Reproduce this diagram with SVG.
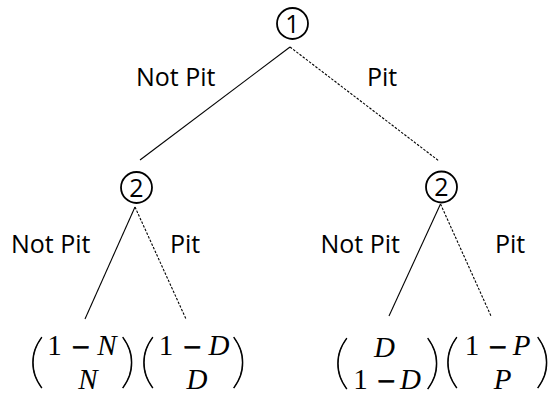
<svg xmlns="http://www.w3.org/2000/svg" width="553" height="396" viewBox="0 0 553 396">
<style>
.node circle{fill:none;stroke:#000;stroke-width:1.8}
.num{font-family:"Open Sans","Noto Sans",sans-serif;font-size:25px;text-anchor:middle;fill:#000}
.lbl{font-family:"Open Sans","Noto Sans",sans-serif;font-size:25px;fill:#000}
.solid{stroke:#000;stroke-width:1.1;fill:none}
.dash{stroke:#000;stroke-width:1.1;fill:none;stroke-dasharray:2.5 1.5}
.m{font-family:"Liberation Serif",serif;font-size:29px;fill:#000;text-anchor:middle}
.m .v{font-style:italic}
.m .op{font-family:"DejaVu Sans",sans-serif;font-size:24px;stroke:#000;stroke-width:0.6}
.par{font-family:Lato,"Open Sans",sans-serif;font-weight:100;font-size:40px;fill:#000;stroke:#000;stroke-width:0.5}
</style>
<rect width="553" height="396" fill="#fff"/>
<g id="connectors">
<line class="solid" x1="290" y1="47" x2="140" y2="160"/>
<line class="dash" x1="290" y1="47" x2="439" y2="161"/>
<line class="solid" x1="135" y1="207" x2="85" y2="319"/>
<line class="dash" x1="135" y1="207" x2="186" y2="319"/>
<line class="solid" x1="440.5" y1="204" x2="389" y2="316"/>
<line class="dash" x1="440.5" y1="204" x2="491" y2="316"/>
</g>
<g id="labels">
<text class="lbl" x="136" y="86">Not Pit</text>
<text class="lbl" x="367" y="86">Pit</text>
<text class="lbl" x="11" y="253">Not Pit</text>
<text class="lbl" x="170" y="253">Pit</text>
<text class="lbl" x="320.5" y="253">Not Pit</text>
<text class="lbl" x="495" y="253">Pit</text>
</g>
<g id="node1" class="node">
<circle cx="292.5" cy="23.5" r="15.5"/>
<text class="num" x="292.5" y="32.5">1</text>
</g>
<g id="node2a" class="node">
<circle cx="136.5" cy="187.5" r="15.5"/>
<text class="num" x="136.5" y="196.5">2</text>
</g>
<g id="node2b" class="node">
<circle cx="441.5" cy="187" r="15.5"/>
<text class="num" x="441.5" y="196">2</text>
</g>
<g id="payoff1">
<text class="par" transform="translate(28.5,381) scale(1.6,1.45)">(</text>
<text class="m" y="355"><tspan x="54.5">1</tspan><tspan class="op" x="80.5">−</tspan><tspan class="v" x="107">N</tspan></text>
<text class="m" y="389"><tspan class="v" x="88">N</tspan></text>
<text class="par" transform="translate(120,381) scale(1.6,1.45)">)</text>
</g>
<g id="payoff2">
<text class="par" transform="translate(139.5,381) scale(1.6,1.45)">(</text>
<text class="m" y="355"><tspan x="166">1</tspan><tspan class="op" x="192">−</tspan><tspan class="v" x="219">D</tspan></text>
<text class="m" y="389"><tspan class="v" x="197">D</tspan></text>
<text class="par" transform="translate(231,381) scale(1.6,1.45)">)</text>
</g>
<g id="payoff3">
<text class="par" transform="translate(333.5,382) scale(1.6,1.45)">(</text>
<text class="m" y="357"><tspan class="v" x="384.5">D</tspan></text>
<text class="m" y="389"><tspan x="360.5">1</tspan><tspan class="op" x="386">−</tspan><tspan class="v" x="410.5">D</tspan></text>
<text class="par" transform="translate(425,382) scale(1.6,1.45)">)</text>
</g>
<g id="payoff4">
<text class="par" transform="translate(443.5,381) scale(1.6,1.45)">(</text>
<text class="m" y="355"><tspan x="472">1</tspan><tspan class="op" x="497.5">−</tspan><tspan class="v" x="521.5">P</tspan></text>
<text class="m" y="389"><tspan class="v" x="502.5">P</tspan></text>
<text class="par" transform="translate(535,381) scale(1.6,1.45)">)</text>
</g>
</svg>
